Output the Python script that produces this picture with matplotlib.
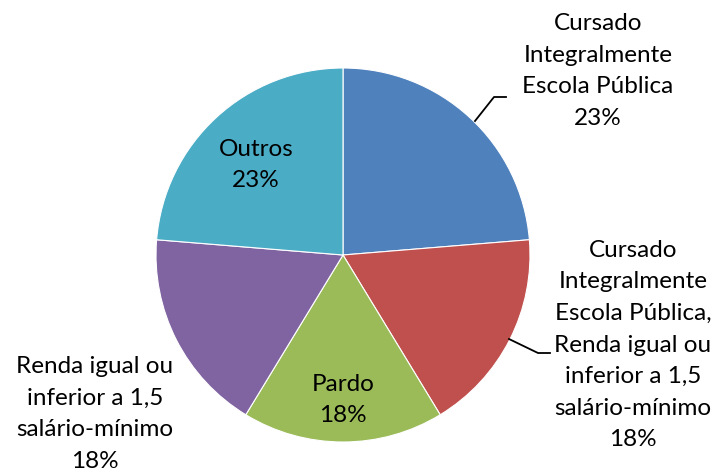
import matplotlib.pyplot as plt

# fatias do grafico (percentual)
categorias = ['Cursado\nIntegralmente\nEscola Pública',
              'Cursado\nIntegralmente\nEscola Pública,\nRenda igual ou\ninferior a 1,5\nsalário-mínimo',
              'Pardo',
              'Renda igual ou\ninferior a 1,5\nsalário-mínimo',
              'Outros']
valores = [23.7, 17.6, 17.4, 17.6, 23.7]
rotulos_pct = ['23%', '18%', '18%', '18%', '23%']
cores = ['#4F81BD', '#C0504D', '#9BBB59', '#8064A2', '#4BACC6']

plt.rcParams['font.family'] = ['Lato', 'DejaVu Sans']

fig = plt.figure(figsize=(7.2, 4.76), dpi=100)
ax = fig.add_axes([0, 0, 1, 1])

H = 476
cx, cy, r = 343, H - 255, 187
ax.pie(valores, colors=cores, startangle=90, counterclock=False,
       center=(cx, cy), radius=r, frame=True,
       wedgeprops=dict(edgecolor='white', linewidth=0.8))
ax.set_xlim(0, 720)
ax.set_ylim(0, 476)
ax.axis('off')

# posicoes dos rotulos (pixels da figura)
pos = [(598, 71), (633, 345), (343, 400), (95, 414), (256, 165)]
fs = 17.5
for cat, pct, (px, py) in zip(categorias, rotulos_pct, pos):
    ax.text(px, H - py, cat + '\n' + pct, ha='center', va='center',
            fontsize=fs, linespacing=1.62, color='black')

# linhas de chamada
ax.plot([475, 494, 506], [H - 121, H - 97, H - 97], color='black', lw=1.3)
ax.plot([509, 538, 550], [H - 339, H - 353, H - 353], color='black', lw=1.3)

fig.savefig('out.png', dpi=100)
